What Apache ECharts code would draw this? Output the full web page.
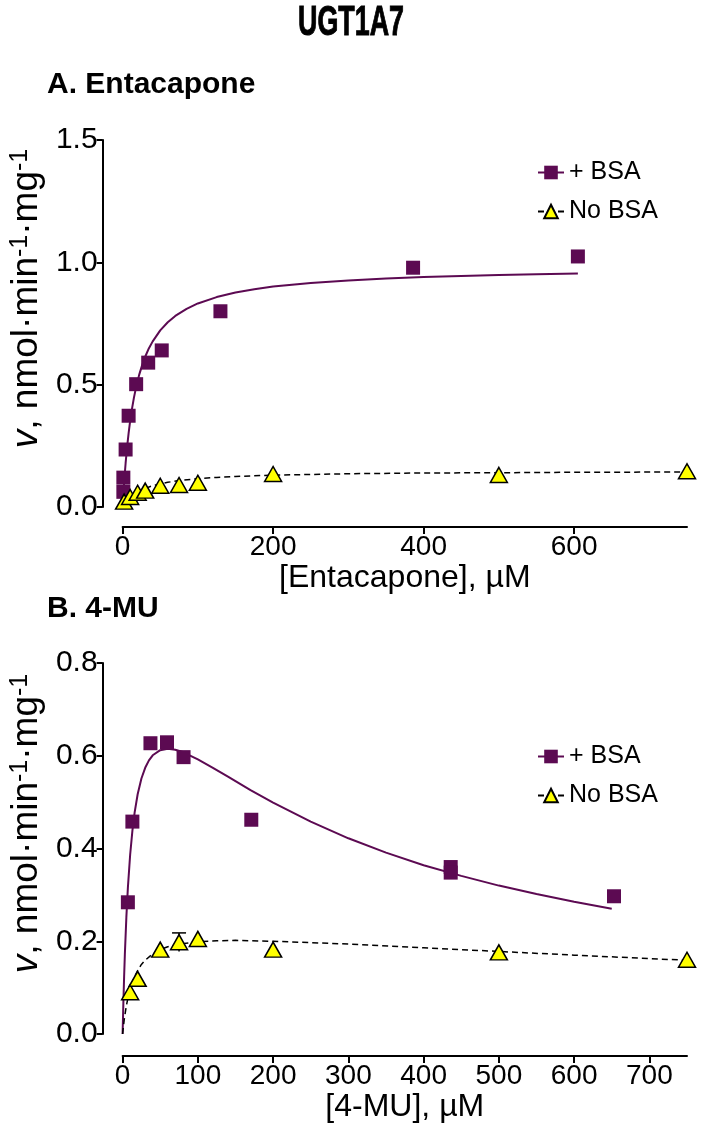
<!DOCTYPE html>
<html><head><meta charset="utf-8">
<script src="https://cdn.jsdelivr.net/npm/echarts@6/dist/echarts.min.js"></script>
<style>html,body{margin:0;padding:0;background:#fff}#c{width:702px;height:1134px}</style>
</head><body><div id="c"></div>
<script>
// ---------- Panel A: Entacapone ----------
const topBsaX = [1, 1, 4, 8, 18, 34, 52, 130, 386, 605];
const topBsaY = [0.062, 0.120, 0.235, 0.373, 0.502, 0.590, 0.640, 0.800, 0.978, 1.024];
const topNoX = [2, 10, 20, 30, 50, 75, 100, 200, 500, 750];
const topNoY = [0.022, 0.041, 0.058, 0.067, 0.087, 0.090, 0.099, 0.135, 0.131, 0.146];
// fitted curves
const topBsaFitX = [0, 1, 2, 3, 4, 6, 8, 10, 12, 15, 18, 22, 26, 30, 35, 40, 50, 60, 70, 85, 100, 125, 150, 175, 200, 250, 300, 350, 400, 450, 500, 550, 605];
const topBsaFitY = [0, 0.052, 0.098, 0.140, 0.179, 0.246, 0.302, 0.351, 0.393, 0.446, 0.491, 0.540, 0.580, 0.614, 0.649, 0.677, 0.722, 0.755, 0.781, 0.810, 0.832, 0.858, 0.877, 0.890, 0.901, 0.916, 0.926, 0.934, 0.940, 0.944, 0.948, 0.951, 0.954];
const topNoFitX = [0, 2, 5, 10, 15, 20, 30, 40, 50, 60, 75, 100, 125, 150, 200, 250, 300, 400, 500, 600, 750];
const topNoFitY = [0, 0.010, 0.022, 0.039, 0.051, 0.061, 0.076, 0.087, 0.095, 0.101, 0.108, 0.116, 0.121, 0.125, 0.130, 0.133, 0.136, 0.139, 0.140, 0.142, 0.143];
const topXTicks = [0, 200, 400, 600];

// ---------- Panel B: 4-MU ----------
const botBsaX = [7, 13, 37, 59, 81, 171, 436, 436, 653];
const botBsaY = [0.284, 0.458, 0.627, 0.629, 0.597, 0.462, 0.360, 0.348, 0.297];
const botNoX = [10, 20, 50, 75, 100, 200, 500, 750];
const botNoY = [0.090, 0.119, 0.182, 0.198, 0.205, 0.182, 0.176, 0.160];
const botNoErrX = [75];
const botNoErrLo = [0.178];
const botNoErrHi = [0.218];
const botBsaFitX = [0, 1, 2, 3, 5, 7, 10, 13, 16, 20, 25, 30, 35, 40, 50, 60, 70, 80, 100, 120, 140, 170, 200, 250, 300, 350, 400, 450, 500, 550, 600, 650];
const botBsaFitY = [0, 0.066, 0.123, 0.172, 0.252, 0.315, 0.386, 0.438, 0.478, 0.517, 0.551, 0.574, 0.590, 0.601, 0.612, 0.615, 0.613, 0.608, 0.592, 0.574, 0.555, 0.526, 0.499, 0.458, 0.422, 0.391, 0.364, 0.341, 0.320, 0.302, 0.285, 0.270];
const botNoFitX = [0, 1, 2, 3, 5, 7, 10, 15, 20, 25, 30, 40, 50, 60, 75, 100, 125, 150, 200, 250, 300, 400, 500, 600, 750];
const botNoFitY = [0, 0.015, 0.029, 0.040, 0.061, 0.077, 0.097, 0.120, 0.137, 0.150, 0.159, 0.173, 0.182, 0.188, 0.194, 0.199, 0.201, 0.202, 0.200, 0.197, 0.194, 0.186, 0.178, 0.170, 0.159];
const botXTicks = [0, 100, 200, 300, 400, 500, 600, 700];

const seriesNames = ['+ BSA', 'No BSA'];

const F = '"Liberation Sans", Arial, sans-serif';
const PURPLE = '#5c0a52';
const YELLOW = '#ffff00';
const pairs = (xs, ys) => xs.map((x, i) => [x, ys[i]]);

const chart = echarts.init(document.getElementById('c'), null, {renderer: 'canvas'});

const yName = '{i|v}, nmol·min{s|-1}·mg{s|-1}';
const nameStyle = {
  fontSize: 37, color: '#000', fontFamily: F, padding: [0, 0, 0, 50],
  rich: {
    i: {fontStyle: 'italic', fontSize: 37, color: '#000', fontFamily: F},
    s: {fontSize: 25, color: '#000', fontFamily: F, verticalAlign: 'top'}
  }
};

function xAxis(grid, ticks, name, offset) {
  return {
    gridIndex: grid, type: 'value', min: 0, max: 750, offset: offset,
    axisLine: {show: true, onZero: false, lineStyle: {color: '#000', width: 2}},
    axisTick: {show: true, length: 7, lineStyle: {color: '#000', width: 2}, customValues: ticks},
    axisLabel: {customValues: ticks, fontSize: 28, color: '#000', fontFamily: F, margin: 6},
    splitLine: {show: false},
    name: name, nameLocation: 'middle', nameGap: 34,
    nameTextStyle: {fontSize: 32, color: '#000', fontFamily: F}
  };
}
function yAxis(grid, max, interval) {
  return {
    gridIndex: grid, type: 'value', min: 0, max: max, interval: interval, offset: 20,
    axisLine: {show: true, onZero: false, lineStyle: {color: '#000', width: 2}},
    axisTick: {show: true, length: 6, lineStyle: {color: '#000', width: 2}},
    axisLabel: {fontSize: 30, color: '#000', fontFamily: F, margin: 5, formatter: v => v.toFixed(1)},
    splitLine: {show: false},
    name: yName, nameLocation: 'middle', nameRotate: 90, nameGap: 54,
    nameTextStyle: nameStyle
  };
}

function fitLine(name, xi, xs, ys, isBsa) {
  return {
    type: 'line', name: name, xAxisIndex: xi, yAxisIndex: xi,
    data: pairs(xs, ys), smooth: false,
    showSymbol: false, symbol: isBsa ? 'rect' : 'triangle', symbolSize: isBsa ? 14 : [17, 15],
    lineStyle: isBsa ? {color: PURPLE, width: 2} : {color: '#000', width: 1.5, type: [6, 4]},
    itemStyle: isBsa ? {color: PURPLE} : {color: YELLOW, borderColor: '#000', borderWidth: 1.5},
    silent: true, z: 2
  };
}
function points(name, xi, xs, ys, isBsa) {
  return {
    type: 'scatter', name: name, xAxisIndex: xi, yAxisIndex: xi,
    data: pairs(xs, ys), clip: false,
    symbol: isBsa ? 'rect' : 'triangle', symbolSize: isBsa ? 14 : [17, 15],
    itemStyle: isBsa ? {color: PURPLE, opacity: 1} : {color: YELLOW, borderColor: '#000', borderWidth: 1.5, opacity: 1},
    z: 4
  };
}

const errData = botNoErrX.map((x, i) => [x, botNoErrLo[i], botNoErrHi[i]]);

const legendCommon = {
  orient: 'vertical', left: 532, itemWidth: 26, itemHeight: 17, itemGap: 14,
  selectedMode: false, data: seriesNames,
  textStyle: {fontSize: 25, color: '#000', fontFamily: F}
};

chart.setOption({
  animation: false,
  backgroundColor: '#fff',
  title: [
    {text: 'A. Entacapone', left: 47, top: 70, padding: 0, textStyle: {fontSize: 30, fontWeight: 'bold', color: '#000', fontFamily: F}},
    {text: 'B. 4-MU', left: 47, top: 594, padding: 0, textStyle: {fontSize: 30, fontWeight: 'bold', color: '#000', fontFamily: F}}
  ],
  graphic: [
    {type: 'text', x: 351, y: 2, scaleX: 0.64, silent: true,
     style: {text: 'UGT1A7', align: 'center', verticalAlign: 'top', fill: '#000', stroke: '#000', lineWidth: 1,
             font: 'bold 42px "Liberation Sans", Arial, sans-serif'}}
  ],
  legend: [
    Object.assign({}, legendCommon, {top: 155}),
    Object.assign({}, legendCommon, {top: 739})
  ],
  grid: [
    {left: 122, right: 15, top: 140, height: 367},
    {left: 122, right: 15, top: 663, height: 371}
  ],
  xAxis: [xAxis(0, topXTicks, '[Entacapone], µM', 20), xAxis(1, botXTicks, '[4-MU], µM', 22)],
  yAxis: [yAxis(0, 1.5, 0.5), yAxis(1, 0.8, 0.2)],
  series: [
    fitLine(seriesNames[0], 0, topBsaFitX, topBsaFitY, true),
    fitLine(seriesNames[1], 0, topNoFitX, topNoFitY, false),
    points(seriesNames[0], 0, topBsaX, topBsaY, true),
    points(seriesNames[1], 0, topNoX, topNoY, false),
    fitLine(seriesNames[0], 1, botBsaFitX, botBsaFitY, true),
    fitLine(seriesNames[1], 1, botNoFitX, botNoFitY, false),
    {
      type: 'custom', name: 'err', xAxisIndex: 1, yAxisIndex: 1, data: errData, z: 3, silent: true,
      renderItem: function (params, api) {
        const x = api.value(0);
        const p1 = api.coord([x, api.value(1)]);
        const p2 = api.coord([x, api.value(2)]);
        const w = 7;
        return {type: 'group', children: [
          {type: 'line', shape: {x1: p1[0], y1: p1[1], x2: p2[0], y2: p2[1]}, style: {stroke: '#000', lineWidth: 1.5}},
          {type: 'line', shape: {x1: p2[0] - w, y1: p2[1], x2: p2[0] + w, y2: p2[1]}, style: {stroke: '#000', lineWidth: 1.5}}
        ]};
      }
    },
    points(seriesNames[0], 1, botBsaX, botBsaY, true),
    points(seriesNames[1], 1, botNoX, botNoY, false)
  ]
});
</script></body></html>
